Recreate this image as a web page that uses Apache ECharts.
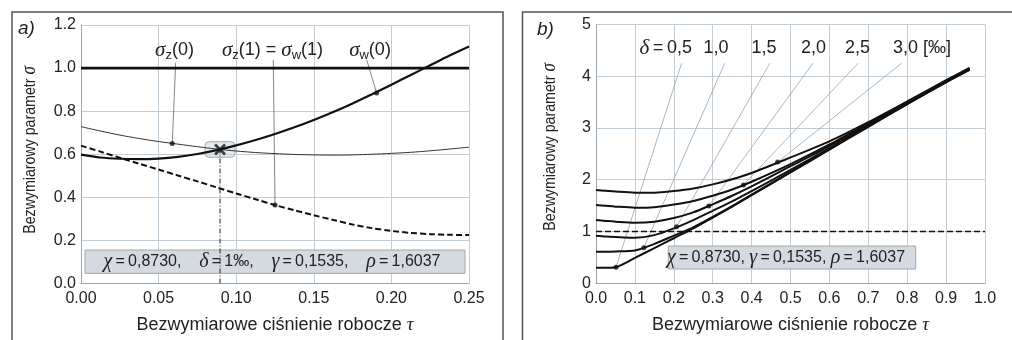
<!DOCTYPE html>
<html>
<head>
<meta charset="utf-8">
<script src="https://cdn.jsdelivr.net/npm/echarts@6/dist/echarts.min.js"></script>
<style>
html,body{margin:0;padding:0;background:#fff;}
#chart{width:1012px;height:340px;}
</style>
</head>
<body>
<div id="chart"></div>
<script>
// ---------- Panel a data ----------
const tauA = [0, 0.0125, 0.025, 0.0375, 0.05, 0.0625, 0.075, 0.0875, 0.1, 0.1125, 0.125, 0.1375, 0.15, 0.1625, 0.175, 0.1875, 0.2, 0.2125, 0.225, 0.2375, 0.25];
const sigmaThickA = [0.598, 0.585, 0.579, 0.577, 0.580, 0.588, 0.601, 0.619, 0.641, 0.666, 0.694, 0.725, 0.759, 0.796, 0.836, 0.879, 0.923, 0.968, 1.013, 1.058, 1.100];
const sigmaThinA = [0.728, 0.708, 0.689, 0.673, 0.659, 0.647, 0.635, 0.624, 0.615, 0.608, 0.603, 0.599, 0.597, 0.596, 0.597, 0.600, 0.604, 0.609, 0.616, 0.624, 0.633];
const sigmaDashedA = [0.640, 0.612, 0.584, 0.556, 0.529, 0.501, 0.474, 0.446, 0.418, 0.391, 0.364, 0.340, 0.317, 0.295, 0.274, 0.257, 0.244, 0.235, 0.229, 0.226, 0.225];
const tauOneA = [0, 0.25];
const sigmaOneA = [1.0, 1.0];
const dotTauA = [0.0588, 0.125, 0.1905];
const dotSigmaA = [0.650, 0.364, 0.884];
const crossTauA = 0.0896;
const crossSigmaA = 0.622;
const leaderTopTauA = [0.0610, 0.1239, 0.1841];
const leaderTopSigmaA = [1.025, 1.038, 1.038];
const xTicksA = ['0.00', '0.05', '0.10', '0.15', '0.20', '0.25'];
const yTicksA = ['0.0', '0.2', '0.4', '0.6', '0.8', '1.0', '1.2'];

// ---------- Panel b data ----------
const tauB = [0, 0.025, 0.05, 0.1, 0.15, 0.2, 0.25, 0.3, 0.35, 0.4, 0.5, 0.6, 0.7, 0.8, 0.9, 0.96];
const sigmaB03 = [0.30, 0.30, 0.31, 0.49, 0.68, 0.87, 1.06, 1.27, 1.48, 1.70, 2.14, 2.58, 3.02, 3.46, 3.88, 4.12];
const sigmaB06 = [0.61, 0.61, 0.615, 0.635, 0.76, 0.92, 1.08, 1.28, 1.49, 1.71, 2.15, 2.59, 3.03, 3.46, 3.89, 4.12];
const sigmaB09 = [0.92, 0.905, 0.895, 0.88, 0.93, 1.06, 1.22, 1.40, 1.58, 1.78, 2.19, 2.61, 3.04, 3.47, 3.89, 4.13];
const sigmaB12 = [1.22, 1.205, 1.19, 1.17, 1.19, 1.26, 1.37, 1.525, 1.69, 1.87, 2.26, 2.65, 3.07, 3.49, 3.90, 4.14];
const sigmaB15 = [1.51, 1.495, 1.48, 1.46, 1.47, 1.52, 1.59, 1.69, 1.81, 1.96, 2.30, 2.68, 3.09, 3.50, 3.91, 4.15];
const sigmaB18 = [1.80, 1.785, 1.77, 1.75, 1.75, 1.78, 1.83, 1.91, 2.01, 2.13, 2.43, 2.74, 3.11, 3.51, 3.92, 4.16];
const deltaLabels = ['0,5', '1,0', '1,5', '2,0', '2,5', '3,0'];
const deltaStartTau = [0.0514, 0.123, 0.207, 0.29, 0.379, 0.467];
const deltaStartSigma = [0.31, 0.687, 1.09, 1.49, 1.90, 2.34];
const deltaEndTau = [0.22, 0.331, 0.447, 0.558, 0.674, 0.786];
const deltaEndSigma = [4.25, 4.25, 4.25, 4.25, 4.25, 4.25];
const tauOneB = [0, 1.0];
const sigmaOneB = [1.0, 1.0];
const xTicksB = ['0.0', '0.1', '0.2', '0.3', '0.4', '0.5', '0.6', '0.7', '0.8', '0.9', '1.0'];
const yTicksB = ['0', '1', '2', '3', '4', '5'];

// ---------- helpers ----------
const SANS = '"Liberation Sans", Arial, Helvetica, sans-serif';
const SERIF = '"Liberation Serif", "DejaVu Serif", serif';
const GRID_C = '#c2ccd4';
const TXT = '#222';
const zip = (xs, ys) => xs.map((x, i) => [x, ys[i]]);

const chart = echarts.init(document.getElementById('chart'), null, {renderer: 'canvas'});

function xAxisCfg(idx, min, max, interval, ticks) {
  return {
    type: 'value', gridIndex: idx, min, max, interval,
    name: 'Bezwymiarowe ciśnienie robocze {g|τ}',
    nameLocation: 'middle', nameGap: 32,
    nameTextStyle: {fontFamily: SANS, fontSize: 18, color: TXT,
      rich: {g: {fontFamily: SERIF, fontStyle: 'italic', fontSize: 19, color: TXT}}},
    axisLine: {show: true, lineStyle: {color: '#9aa4ac', width: 1}},
    axisTick: {show: false},
    axisLabel: {fontFamily: SANS, fontSize: 16, color: TXT, margin: 7,
      formatter: v => ticks[Math.round((v - min) / interval)]},
    splitLine: {show: true, lineStyle: {color: GRID_C, width: 1}}
  };
}
function yAxisCfg(idx, min, max, interval, ticks) {
  return {
    type: 'value', gridIndex: idx, min, max, interval,
    axisLine: {show: true, lineStyle: {color: '#9aa4ac', width: 1}},
    axisTick: {show: false},
    axisLabel: {fontFamily: SANS, fontSize: 16, color: TXT, margin: 5,
      formatter: v => ticks[Math.round((v - min) / interval)]},
    splitLine: {show: true, lineStyle: {color: GRID_C, width: 1}}
  };
}

const series = [];
// Panel a leaders
for (let i = 0; i < dotTauA.length; i++) {
  series.push({type: 'line', xAxisIndex: 0, yAxisIndex: 0, silent: true, symbol: 'none',
    data: [[leaderTopTauA[i], leaderTopSigmaA[i]], [dotTauA[i], dotSigmaA[i]]],
    lineStyle: {color: '#666', width: 0.8}, z: 2});
}
// vertical dashed line at cross
series.push({type: 'line', xAxisIndex: 0, yAxisIndex: 0, silent: true, symbol: 'none',
  data: [[crossTauA, 0], [crossTauA, crossSigmaA]],
  lineStyle: {color: '#444', width: 1.2, type: [5, 2, 1, 2]}, z: 3});
series.push({type: 'line', xAxisIndex: 0, yAxisIndex: 0, symbol: 'none', smooth: 0.3,
  data: zip(tauA, sigmaThinA), lineStyle: {color: '#333', width: 1}, z: 3});
series.push({type: 'line', xAxisIndex: 0, yAxisIndex: 0, symbol: 'none', smooth: 0.3,
  data: zip(tauA, sigmaDashedA), lineStyle: {color: '#111', width: 2, type: [6, 3]}, z: 3});
series.push({type: 'line', xAxisIndex: 0, yAxisIndex: 0, symbol: 'none', smooth: 0.3,
  data: zip(tauA, sigmaThickA), lineStyle: {color: '#111', width: 2.2}, z: 4});
series.push({type: 'line', xAxisIndex: 0, yAxisIndex: 0, symbol: 'none',
  data: zip(tauOneA, sigmaOneA), lineStyle: {color: '#111', width: 2.6}, z: 4});
series.push({type: 'scatter', xAxisIndex: 0, yAxisIndex: 0, symbol: 'circle', symbolSize: 5,
  data: zip(dotTauA, dotSigmaA), itemStyle: {color: '#111'}, z: 6});
series.push({type: 'scatter', xAxisIndex: 0, yAxisIndex: 0,
  symbol: 'path://M0,0L10,10M10,0L0,10', symbolSize: 10,
  data: [[crossTauA, crossSigmaA]],
  itemStyle: {color: 'none', borderColor: '#111', borderWidth: 2.6}, z: 7});

// Panel b
for (let i = 0; i < deltaLabels.length; i++) {
  series.push({type: 'line', xAxisIndex: 1, yAxisIndex: 1, silent: true, symbol: 'none',
    data: [[deltaStartTau[i], deltaStartSigma[i]], [deltaEndTau[i], deltaEndSigma[i]]],
    lineStyle: {color: '#9aa3aa', width: 0.8}, z: 2});
}
series.push({type: 'line', xAxisIndex: 1, yAxisIndex: 1, symbol: 'none',
  data: zip(tauOneB, sigmaOneB), lineStyle: {color: '#111', width: 1.6, type: [6, 3]}, z: 3});
[sigmaB03, sigmaB06, sigmaB09, sigmaB12, sigmaB15, sigmaB18].forEach(arr => {
  series.push({type: 'line', xAxisIndex: 1, yAxisIndex: 1, symbol: 'none', smooth: 0.25,
    data: zip(tauB, arr), lineStyle: {color: '#111', width: 2}, z: 4});
});
series.push({type: 'scatter', xAxisIndex: 1, yAxisIndex: 1, symbol: 'circle', symbolSize: 5,
  data: zip(deltaStartTau, deltaStartSigma), itemStyle: {color: '#111'}, z: 6});

const greek = {fontFamily: SERIF, fontStyle: 'italic', fontSize: 21, fill: TXT, lineHeight: 24};
const sansR = {fontFamily: SANS, fontSize: 18, fill: TXT, lineHeight: 24};
const subR = {fontFamily: SANS, fontSize: 13, fill: TXT, verticalAlign: 'bottom', lineHeight: 11};

function label(x, y, text, align) {
  return {type: 'text', x, y, z: 10,
    style: {text, align: align || 'center', verticalAlign: 'middle',
      rich: {g: greek, t: sansR, s: subR}}};
}
function yTitle(x, y) {
  return {type: 'text', x, y, rotation: Math.PI / 2, scaleX: 1, scaleY: 1.18, z: 10,
    style: {text: '{t|Bezwymiarowy parametr }{g|σ}', align: 'center', verticalAlign: 'middle',
      rich: {t: {fontFamily: SANS, fontSize: 14.2, fill: TXT},
             g: {fontFamily: SERIF, fontStyle: 'italic', fontSize: 17, fill: TXT}}}};
}

const boxText = {
  g: {fontFamily: SERIF, fontStyle: 'italic', fontSize: 20, fill: TXT},
  t: {fontFamily: SANS, fontSize: 16, fill: TXT}
};

const graphic = [
  {type: 'rect', z: -1, shape: {x: 12, y: 12, width: 491, height: 345},
    style: {fill: 'none', stroke: '#555', lineWidth: 1.5}},
  {type: 'rect', z: -1, shape: {x: 522.5, y: 12, width: 500, height: 345},
    style: {fill: 'none', stroke: '#555', lineWidth: 1.5}},
  {type: 'text', x: 18, y: 29, z: 10, style: {text: 'a)', fontFamily: SANS, fontStyle: 'italic', fontSize: 19, fill: TXT, verticalAlign: 'middle'}},
  {type: 'text', x: 537, y: 30, z: 10, style: {text: 'b)', fontFamily: SANS, fontStyle: 'italic', fontSize: 19, fill: TXT, verticalAlign: 'middle'}},
  yTitle(30, 150),
  yTitle(550, 147),
  label(174.5, 50, '{g|σ}{s|z}{t|(0)}'),
  label(272.5, 50, '{g|σ}{s|z}{t|(1) = }{g|σ}{s|w}{t|(1)}'),
  label(370, 50, '{g|σ}{s|w}{t|(0)}'),
  {type: 'rect', z: 1, shape: {x: 205, y: 141.7, width: 30, height: 15.6, r: 4},
    style: {fill: 'rgba(205,212,218,0.55)', stroke: '#a2acb4', lineWidth: 1}},
  {type: 'rect', z: 1, shape: {x: 85, y: 250, width: 380, height: 23.3},
    style: {fill: '#d4dadf', stroke: '#9ea8b0', lineWidth: 1}},
  {type: 'text', x: 272, y: 262, z: 10, style: {align: 'center', verticalAlign: 'middle',
    text: '{g|χ}{t|\u2009=\u20090,8730,    }{g|δ}{t|\u2009=\u20091‰,    }{g|γ}{t|\u2009=\u20090,1535,    }{g|ρ}{t|\u2009=\u20091,6037}',
    rich: boxText}},
  {type: 'rect', z: 1, shape: {x: 668.3, y: 246, width: 247.4, height: 23},
    style: {fill: '#d4dadf', stroke: '#9ea8b0', lineWidth: 1}},
  {type: 'text', x: 786, y: 258, z: 10, style: {align: 'center', verticalAlign: 'middle',
    text: '{g|χ}{t|\u2009=\u20090,8730, }{g|γ}{t|\u2009=\u20090,1535, }{g|ρ}{t|\u2009=\u20091,6037}',
    rich: boxText}},
  {type: 'text', x: 692, y: 48, z: 10, style: {align: 'right', verticalAlign: 'middle',
    text: '{g|δ}{t|\u2009=\u2009' + deltaLabels[0] + '}', rich: {g: greek, t: sansR}}},
  label(716, 48, '{t|' + deltaLabels[1] + '}'),
  label(764, 48, '{t|' + deltaLabels[2] + '}'),
  label(813.5, 48, '{t|' + deltaLabels[3] + '}'),
  label(857.5, 48, '{t|' + deltaLabels[4] + '}'),
  label(893, 48, '{t|' + deltaLabels[5] + ' [‰]}', 'left')
];

chart.setOption({
  animation: false,
  backgroundColor: '#fff',
  grid: [
    {left: 81, top: 25, width: 388, height: 258.5, containLabel: false},
    {left: 596, top: 24.3, width: 389, height: 259, containLabel: false}
  ],
  xAxis: [xAxisCfg(0, 0, 0.25, 0.05, xTicksA), xAxisCfg(1, 0, 1.0, 0.1, xTicksB)],
  yAxis: [yAxisCfg(0, 0, 1.2, 0.2, yTicksA), yAxisCfg(1, 0, 5, 1, yTicksB)],
  series,
  graphic
});
</script>
</body>
</html>
